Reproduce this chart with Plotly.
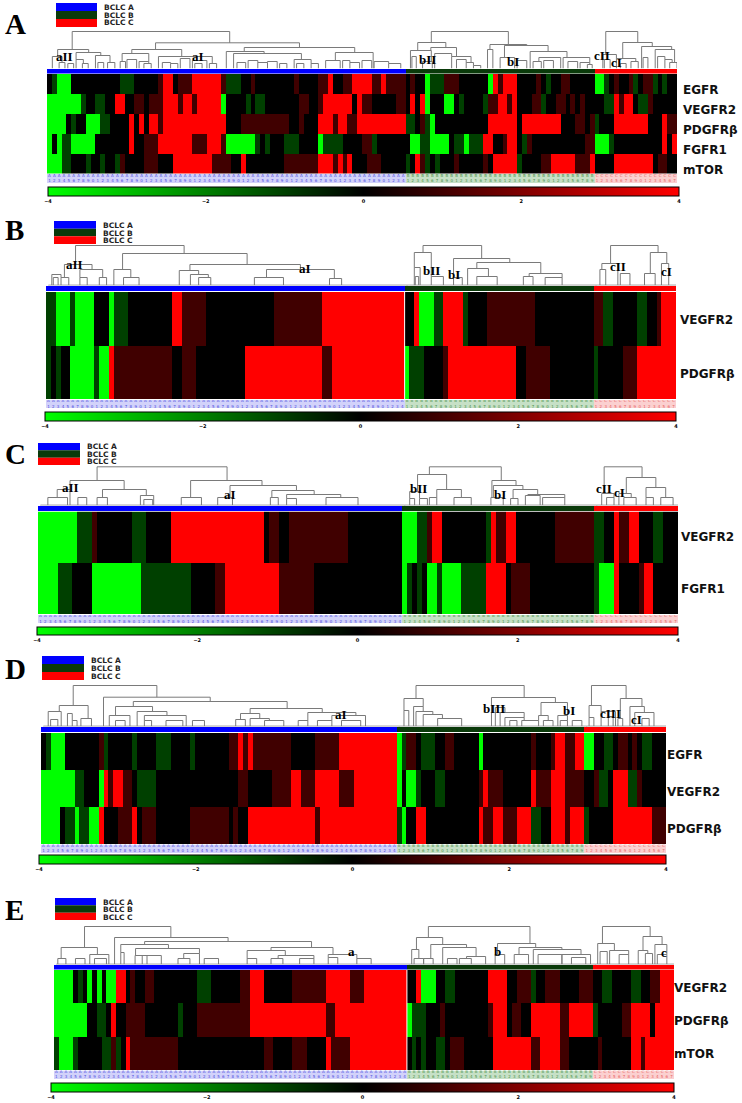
import plotly.graph_objects as go

W, H = 742, 1103
LEVELS = {'G': -4, 'g': -1, 'k': 0, 'd': 1, 'R': 4}
GROUP_NAMES = ['BCLC A', 'BCLC B', 'BCLC C']
GROUP_SIZES = [74, 39, 17]
GROUP_COLORS = ['#0000ff', '#0a3a0a', '#ff0000']
LABEL_BG = ['#d2d2fa', '#c6e0c6', '#fbd0d0']
LABEL_FG = ['#4a4ae0', '#4a904a', '#e86060']
TICKS = [-4, -2, 0, 2, 4]

# heat values per sample, run-length: level + number of samples (A part, B part, C part)
A_EGFR = ('k1 g1 G3 k10 g3 k5 d1 R2 k1 d3 R6 d1 g3 k2 d1 k8 d1 k4 d2 R1 k2 d2 R4 d2 R1 d4 '
          'k1 d1 k2 G1 g3 d3 k6 G1 R1 d1 R3 k4 d1 k1 g1 k2 d2 k5 '
          'G2 g1 k1 d1 k2 d1 g1 k1 d2 g1 k1 g1 k2')
A_VEGFR2 = ('G7 g1 k2 g2 k2 R2 k2 d2 k1 d3 R3 d1 R2 d1 R5 G1 k4 g1 k1 g2 k7 d2 k2 d1 R6 k1 R1 d2 k5 d2 '
            'k1 R1 k1 R1 G1 k3 G2 k1 g1 k4 g1 d2 R2 d1 R1 k3 d2 g1 k2 d2 k1 d1 k1 d1 k2 '
            'k2 g2 R1 d1 R2 k1 g2 d1 k5')
A_PDGFRB = ('G4 k1 g1 k2 G3 g2 k4 R1 k1 R1 k1 R2 d1 R13 k3 d10 k2 d1 k3 R3 d1 R2 d2 R10 '
            'g2 k1 d1 g1 G1 k11 R6 k1 R8 k3 d2 k1 d1 '
            'g1 k3 R7 k3 R1 d2')
A_FGFR1 = ('G1 k1 G1 g2 G5 k7 R1 k2 d3 R7 d3 R3 d1 G6 g1 k1 g1 k3 g3 k4 G1 g4 k4 d2 g1 k6 '
           'k1 G2 g2 G4 k1 g2 G1 g3 R2 k2 d1 R2 k1 g1 d1 k11 d2 '
           'G3 g1 k10 R1 k1 R1')
A_MTOR = ('G3 g2 k3 g1 k2 g1 k2 g1 d1 k4 d3 k3 R8 d4 k2 R1 k8 d7 R3 d1 R1 d1 R1 k3 d3 k5 '
          'g1 k1 R1 d1 g1 k1 g1 k3 d1 k5 d1 k1 R5 g1 k4 d2 R5 d3 R1 '
          'k4 R8 k1 d2 k2')

B_VEGFR2 = ('g2 G3 g1 G4 k3 G1 g3 k9 R2 d5 k14 d10 R17 '
            'k2 R1 G3 g2 R4 g1 k4 d10 k12 '
            'd2 g2 k5 g2 k2 d1 R3')
B_PDGFRB = ('g1 k1 g1 k2 G5 g1 G2 R1 d12 k2 d3 k10 R16 d2 R15 '
            'G1 g3 k4 d1 R14 k2 d5 k9 '
            'g1 k5 d3 R8')

C_VEGFR2 = ('G8 g3 d1 k7 g3 k5 R19 k1 d2 k2 d12 k11 '
            'G3 g2 d1 R2 k9 g1 R1 d2 R2 k8 d8 '
            'g2 k2 R1 d2 R2 k3 g2 k3')
C_FGFR1 = ('G4 g3 k4 G10 g10 k5 d2 R11 d7 k18 '
           'G1 g1 k1 g1 k1 G2 g1 G4 g5 R4 k1 d4 k13 '
           'g1 G3 R1 k4 d1 R2 k5')

D_EGFR = ('k1 g1 G3 k7 d1 g1 k5 g1 k4 g3 k4 g1 k7 d2 R1 d1 R1 d8 k5 d5 R12 '
          'G1 g1 d2 k1 g3 k2 d2 k5 G1 k10 d1 k3 d1 R2 d2 R2 '
          'G2 k2 g2 k1 d2 k1 d1 k1 g2 k3')
D_VEGFR2 = ('G7 g2 k3 G1 R1 d1 R2 d2 k1 g4 k17 d2 k5 d4 R2 d3 R5 d3 R9 '
            'G1 k1 G2 g1 k3 g2 k7 d1 R1 d3 k6 R1 d3 R3 d4 '
            'k2 d1 g2 k1 R3 g2 d1 k5')
D_PDGFRB = ('G4 k1 g2 G1 g2 G2 R1 k3 d3 R1 k1 d3 k7 d8 k1 d1 k2 R14 d1 R16 '
            'g1 G1 k2 R2 k11 R1 d2 R2 d3 R3 g2 k2 R3 d1 R3 '
            'g1 k5 R8 d3')

E_VEGFR2 = ('G4 k1 g1 k1 G1 k1 G1 k1 G2 R2 k1 d1 k2 d2 k9 g3 k6 d2 R3 k6 d7 R5 d3 R9 '
            'k2 R1 G3 k2 g2 k7 R4 k2 d3 g1 k2 d3 k2 k2 d3 '
            'k2 g2 k4 g2 k2 d2 R3')
E_PDGFRB = ('G7 k2 g2 k1 R1 k2 d4 k7 g1 k3 d11 R16 d2 R15 '
            'G1 g3 k3 d1 k9 d1 R3 k1 d2 k2 R6 d2 R5 '
            'g1 k5 d2 R4 k1 R4')
E_MTOR = ('g1 G3 g1 k5 g2 d1 g1 k1 R1 d10 k18 d2 k4 d3 k4 R1 d4 R12 '
          'k1 g1 k1 g1 k2 g2 k1 d3 k6 R8 d2 R4 d2 k5 '
          'k1 d1 k6 R2 d1 R6')

# dendrogram merges: left sample, right sample, height
A_MERGES = [(4.7, 37.2, 37), (1.7, 8.1, 19), (0.6, 2.6, 12), (2, 3.2, 6), (3.8, 5, 5), (5.5, 10.6, 16),
            (5.5, 7, 9), (6.8, 8, 5), (9.5, 12.5, 13), (10, 11.2, 6), (12, 13.5, 6),
            (21.9, 51.6, 25.7), (17, 27.3, 19), (15, 20.5, 15), (14.6, 15.7, 7), (16, 18, 9), (18.5, 20.5, 7),
            (19.5, 21, 5), (22.5, 33.6, 12), (23.3, 25, 6), (25, 26.5, 5), (27, 29, 10), (29.5, 32.5, 8),
            (30, 31.5, 5), (33, 34.5, 5), (40.2, 63, 21), (36.5, 44.3, 17), (38, 52, 15), (38.7, 40.5, 6),
            (41, 43, 8), (43, 45, 6), (45, 47, 7), (47.5, 49, 5), (50.5, 54, 9), (51, 52.5, 5), (54, 55.5, 5),
            (59, 66.8, 16), (57, 60, 8), (60.5, 62, 8), (62, 64, 6), (64.5, 66.5, 8), (67, 70, 7), (70, 72.5, 5),
            (78.8, 94.7, 37), (76, 81.8, 26), (74.5, 78.8, 18), (74.8, 75.7, 12), (77, 79, 7), (78.7, 84, 21),
            (79.5, 83, 15), (83, 87, 12), (84, 86, 9), (86, 87.5, 6), (87.5, 89, 3),
            (90.9, 98.5, 24), (90.4, 91.5, 19), (93.9, 102.9, 23), (93, 96, 11), (96.5, 98.5, 8),
            (99.2, 106.8, 17), (101, 105.5, 11), (99.8, 101.5, 7), (102, 104, 8), (106, 111.5, 11),
            (107, 109, 7), (109.5, 111.5, 6), (111, 112, 4),
            (114.8, 121.4, 37), (114.2, 117, 14), (114.5, 115.7, 9), (118.3, 124.4, 26), (117, 121, 10),
            (117.8, 119, 5), (120, 121.5, 7), (122.2, 128.4, 22), (122.5, 123.5, 11), (125, 129, 19),
            (125.5, 127, 12), (127, 128.5, 9), (128, 129.5, 6)]
B_MERGES = [(5.6, 28, 40), (3.3, 9, 21), (0.7, 2.6, 11), (1, 2, 8), (2.6, 4.2, 8), (6.5, 11.2, 16), (6.5, 8, 8),
            (10.5, 12, 8), (15.3, 41, 32), (13.5, 17, 16), (15.5, 18.7, 8), (29.2, 52, 21), (27, 31, 15),
            (29.3, 33, 11), (31, 33.5, 8), (45, 59, 16), (42.5, 48.5, 8), (58, 60.5, 7), (0, 74, 0.3),
            (77.3, 89.4, 40), (75.5, 79, 33), (75.5, 76.7, 18), (75.7, 76.4, 9), (79, 81.5, 9), (83.6, 95.2, 27),
            (83.6, 85.4, 8), (88.4, 101.6, 23), (86.5, 90.8, 17), (88.4, 92.6, 9), (99.2, 106, 12), (98, 100, 9),
            (102.5, 106, 8), (74, 113, 0.3),
            (116, 125.8, 40), (114.2, 117.5, 22), (113.8, 115, 16), (118, 120, 12), (124.2, 127.6, 33),
            (123, 125.2, 12), (126.5, 128, 22), (113, 130, 0.3)]
C_MERGES = [(11.5, 37.9, 38.7), (6, 17, 25), (3.4, 6, 16), (1.5, 5.5, 8), (7.6, 9.4, 8), (12.6, 21.5, 16),
            (11.5, 13.6, 8), (20.3, 23, 10), (21, 22.8, 6), (30.5, 45, 25), (28.6, 32.7, 8), (38.5, 52, 20),
            (36, 39, 8), (46.7, 48.3, 8), (47, 55.6, 15), (50, 61, 11), (50, 52, 7), (58, 64.5, 8), (0, 74, 0.3),
            (79, 93.6, 38.7), (76.6, 82.5, 31), (75, 77, 14), (75, 76, 7), (77, 78.6, 7), (80.5, 85.5, 16),
            (79, 80.5, 8), (84, 87.5, 8), (91.7, 96.6, 25), (92, 98, 20), (96, 101, 16), (91.5, 94, 8),
            (95.5, 97, 7), (98.5, 101.5, 10), (99, 106.5, 11), (102, 106.5, 8), (74, 113, 0.3),
            (114.5, 122.2, 38.7), (114, 116.5, 12), (115, 116.5, 8), (119, 125, 28), (117.5, 120, 12),
            (118.5, 121, 8), (123, 127, 18), (123, 124.5, 8), (126, 128.5, 8), (113, 130, 0.3)]
D_MERGES = [(6.2, 23.6, 41), (3.3, 9.3, 21), (1, 3.7, 15), (1.5, 3, 7), (5, 6, 13), (6, 7, 6), (7.8, 10, 8),
            (12.5, 34.7, 29.3), (18.7, 50.7, 25), (15, 22.7, 20), (13.7, 18, 11), (15, 17, 6), (19.5, 25.7, 15),
            (21, 29.7, 11), (21, 22.5, 6), (25.5, 29, 6), (31, 33.5, 6), (43, 58, 18), (41, 45, 13), (40, 42, 7),
            (43, 47, 8), (46, 50, 6), (53, 55, 6), (55, 65, 14), (60, 67, 11), (57, 60, 6), (62, 66, 6), (0, 74, 0.3),
            (77.5, 100, 41), (75, 79, 28), (75, 76, 16), (77, 79, 20), (77.5, 81, 15), (79, 83, 12), (82, 87, 8),
            (93.2, 106.5, 29), (94, 96, 19), (95, 100, 14), (96, 100, 9), (97, 98.5, 6), (99.5, 103, 6),
            (103.5, 109, 24), (103, 105, 11), (104, 106, 6), (107, 109, 11), (107.5, 109, 6), (110, 112, 6),
            (74, 113, 0.3),
            (114, 121.2, 41), (113.5, 116, 21), (113.5, 114.5, 9), (116, 119, 15), (117.5, 118.5, 10),
            (119.5, 120.5, 8), (120, 124.5, 28), (122, 125, 20), (123, 127, 14), (124.5, 126, 8), (113, 130, 0.3)]
E_MERGES = [(5.9, 24, 38), (1, 8.6, 17), (0.3, 2, 6), (4, 6, 6), (7, 11, 10), (8, 10.5, 6), (12.2, 36, 27),
            (18.5, 53.5, 23), (13.5, 23.5, 20), (13.5, 14.2, 12), (16.6, 30, 16), (16.5, 19, 9), (18, 22, 9),
            (25.5, 28, 6), (31, 34, 6), (26.7, 30, 11), (45, 58, 17), (40, 48, 14), (40, 42, 6), (45, 47.5, 6),
            (46.5, 54, 9), (51, 54, 6), (57, 63, 10), (57, 59, 7), (63, 66, 6), (0, 74, 0.3),
            (78, 99.3, 38), (75.5, 81, 27), (74.5, 76, 15), (75, 77, 6), (77, 79, 6), (78.5, 86, 20), (81, 88, 17),
            (82, 84, 6), (84.5, 87, 6), (86, 90, 8), (92.5, 100.5, 21), (97, 106, 17), (92, 94, 10), (96, 99, 10),
            (100, 110, 15), (101, 106, 10), (106, 112, 10), (108, 111, 7), (74, 113, 0.3),
            (114.5, 124.5, 38), (113.5, 117, 21), (114, 115.5, 13), (116, 120, 14), (118, 120, 10), (123, 127, 28),
            (122, 124, 14), (123.5, 125, 11), (125.5, 128, 20), (126, 128, 10), (113, 130, 0.3)]

# cluster labels: text, sample, height
A_CLUSTERS = [('aII', 3.2, 12), ('aI', 30.7, 12), ('bII', 78, 9), ('bI', 95.6, 7), ('cII', 114, 13), ('cI', 117, 6)]
B_CLUSTERS = [('aII', 5.3, 21), ('aI', 53, 17), ('bII', 79, 15), ('bI', 83.7, 11), ('cII', 117.5, 19), ('cI', 127.5, 14)]
C_CLUSTERS = [('aII', 6.2, 18), ('aI', 38.5, 11), ('bII', 76.8, 17), ('bI', 93.4, 11), ('cII', 114.4, 17), ('cI', 117.6, 13)]
D_CLUSTERS = [('aI', 62, 12), ('bIII', 93.7, 18), ('bI', 109.4, 16), ('cIII', 118, 13), ('cI', 123.3, 7)]
E_CLUSTERS = [('a', 61.8, 13), ('b', 92.5, 13), ('c', 127.5, 12)]

# pixel geometry of each panel
PANELS = [
    dict(letter='A', letter_y=24, genes=['EGFR', 'VEGFR2', 'PDGFRβ', 'FGFR1', 'mTOR'],
         rows=[A_EGFR, A_VEGFR2, A_PDGFRB, A_FGFR1, A_MTOR], merges=A_MERGES, clusters=A_CLUSTERS,
         left=47, right=677, dend=(30, 68.5), strip=(69, 73.5), heat=(74, 173.5), lab=(174, 183),
         bar=(48, 679, 187.5, 196.5), legend=(56, 97, 3, 27), legend_text=(103, [8, 15, 23]),
         standoff=5, gene_shift=0.3, divider=False),
    dict(letter='B', letter_y=230, genes=['VEGFR2', 'PDGFRβ'],
         rows=[B_VEGFR2, B_PDGFRB], merges=B_MERGES, clusters=B_CLUSTERS,
         left=46, right=676, dend=(245, 285.5), strip=(286, 291), heat=(292, 399), lab=(400, 408),
         bar=(45, 676, 412, 421), legend=(54, 96, 221, 244), legend_text=(102, [225, 233, 240]),
         standoff=3, gene_shift=0.02, divider=True),
    dict(letter='C', letter_y=454, genes=['VEGFR2', 'FGFR1'],
         rows=[C_VEGFR2, C_FGFR1], merges=C_MERGES, clusters=C_CLUSTERS,
         left=38, right=678, dend=(466, 505.5), strip=(506, 511), heat=(511.5, 614), lab=(615, 623),
         bar=(37, 678, 627, 635), legend=(38, 80, 443, 465), legend_text=(86, [446, 454, 461]),
         standoff=2, gene_shift=0, divider=False),
    dict(letter='D', letter_y=669, genes=['EGFR', 'VEGFR2', 'PDGFRβ'],
         rows=[D_EGFR, D_VEGFR2, D_PDGFRB], merges=D_MERGES, clusters=D_CLUSTERS,
         left=41, right=666, dend=(684, 726.5), strip=(727, 732), heat=(733, 844), lab=(844.5, 853),
         bar=(39, 666, 855, 864), legend=(42, 84, 656, 680), legend_text=(90, [660, 668, 676]),
         standoff=0, gene_shift=0.1, divider=False),
    dict(letter='E', letter_y=910, genes=['VEGFR2', 'PDGFRβ', 'mTOR'],
         rows=[E_VEGFR2, E_PDGFRB, E_MTOR], merges=E_MERGES, clusters=E_CLUSTERS,
         left=54, right=674, dend=(926, 964.5), strip=(965, 969.5), heat=(970, 1070), lab=(1070.5, 1079),
         bar=(51, 674, 1083, 1091.5), legend=(55, 96, 898, 920), legend_text=(102, [902, 909, 917]),
         standoff=-1, gene_shift=0.02, divider=True),
]


def expand(row):
    values = []
    for run in row.split():
        values += [LEVELS[run[0]]] * int(run[1:])
    assert len(values) == 130, len(values)
    return values


def px_x(v):
    return v / W


def px_y(v):
    return 1 - v / H


def leg_bottom(merges, x, h):
    hits = [m[2] for m in merges if m[2] < h and m[0] <= x <= m[1]]
    return max(hits) if hits else 0


def dendro_lines(merges):
    xs, ys = [], []
    for left, right, h in merges:
        xs += [left, left, right, right, None]
        ys += [leg_bottom(merges, left, h), h, h, leg_bottom(merges, right, h), None]
    return xs, ys


samples = list(range(130))
group_codes = []
sample_text = []
for g, n in enumerate(GROUP_SIZES):
    group_codes += [g] * n
    sample_text += ['%s<br>%d' % ('ABC'[g], (i + 1) % 10) for i in range(n)]
sample_colors = [LABEL_FG[g] for g in group_codes]

fig = go.Figure()
axes = {}
annotations = []
shapes = []
ax = 0


def add_axes(left, right, y0, y1, xrange, yrange):
    global ax
    ax += 1
    s = '' if ax == 1 else str(ax)
    axes['xaxis' + s] = dict(domain=[px_x(left), px_x(right)], range=xrange, visible=False, anchor='y' + s)
    axes['yaxis' + s] = dict(domain=[px_y(y1), px_y(y0)], range=yrange, anchor='x' + s, visible=False)
    return 'x' + s, 'y' + s


for p in PANELS:
    xr = [-0.5, 129.5]
    left, right = p['left'], p['right']

    # dendrogram
    xa, ya = add_axes(left, right, p['dend'][0], p['dend'][1], xr, [0, p['dend'][1] - p['dend'][0]])
    dx, dy = dendro_lines(p['merges'])
    fig.add_trace(go.Scatter(x=dx, y=dy, mode='lines', xaxis=xa, yaxis=ya, showlegend=False,
                             line=dict(color='#7a7a7a', width=1)))
    for text, col, h in p['clusters']:
        annotations.append(dict(x=col, y=h, xref=xa, yref=ya, text='<b>%s</b>' % text, showarrow=False,
                                font=dict(family='Liberation Serif', size=13, color='black')))

    # group strip
    xa, ya = add_axes(left, right, p['strip'][0], p['strip'][1], xr, [-0.5, 0.5])
    fig.add_trace(go.Heatmap(z=[group_codes], x=samples, xaxis=xa, yaxis=ya, showscale=False, zmin=0, zmax=2,
                             colorscale=[[0, GROUP_COLORS[0]], [0.33, GROUP_COLORS[0]], [0.33, GROUP_COLORS[1]],
                                         [0.67, GROUP_COLORS[1]], [0.67, GROUP_COLORS[2]], [1, GROUP_COLORS[2]]]))

    # expression cells
    z = [expand(r) for r in p['rows']]
    n = len(z)
    bx0, bx1, by0, by1 = p['bar']
    xa, ya = add_axes(left, right, p['heat'][0], p['heat'][1], xr, [n - 0.5, -0.5])
    fig.add_trace(go.Heatmap(z=z, x=samples, y=list(range(n)), xaxis=xa, yaxis=ya, zmin=-4, zmax=4,
                             colorscale=[[0, '#00ff00'], [0.5, '#000000'], [1, '#ff0000']],
                             colorbar=dict(orientation='h', x=px_x(bx0), xanchor='left', xpad=0, ypad=0,
                                           y=px_y(by0), yanchor='top', len=bx1 - bx0, lenmode='pixels',
                                           thickness=by1 - by0, thicknessmode='pixels',
                                           outlinecolor='black', outlinewidth=1,
                                           tickvals=TICKS, ticks='', ticklen=0,
                                           tickfont=dict(family='DejaVu Sans', size=5, color='black', weight='bold'))))
    axes['yaxis' + ya[1:]].update(visible=True, side='right', tickvals=[i + p['gene_shift'] for i in range(n)],
                                  ticktext=p['genes'], showgrid=False, zeroline=False, showline=False,
                                  ticks='', ticklen=0, ticklabelstandoff=p['standoff'],
                                  tickfont=dict(family='DejaVu Sans', size=12, color='#111111', weight='bold'))
    if p['divider']:
        shapes.append(dict(type='line', xref=xa, yref=ya, x0=73.5, x1=73.5, y0=-0.5, y1=n - 0.5,
                           line=dict(color='white', width=1), layer='above'))

    # sample label strip
    xa, ya = add_axes(left, right, p['lab'][0], p['lab'][1], xr, [-0.5, 0.5])
    fig.add_trace(go.Heatmap(z=[group_codes], x=samples, xaxis=xa, yaxis=ya, showscale=False, zmin=0, zmax=2,
                             colorscale=[[0, LABEL_BG[0]], [0.33, LABEL_BG[0]], [0.33, LABEL_BG[1]],
                                         [0.67, LABEL_BG[1]], [0.67, LABEL_BG[2]], [1, LABEL_BG[2]]]))
    fig.add_trace(go.Scatter(x=samples, y=[0] * 130, text=sample_text, mode='text', xaxis=xa, yaxis=ya,
                             showlegend=False, textposition='middle center',
                             textfont=dict(family='DejaVu Sans', size=4, color=sample_colors)))

    # legend swatches and panel letter
    lx0, lx1, ly0, ly1 = p['legend']
    step = (ly1 - ly0) / 3
    tx, tys = p['legend_text']
    for i, name in enumerate(GROUP_NAMES):
        shapes.append(dict(type='rect', xref='paper', yref='paper', x0=px_x(lx0), x1=px_x(lx1),
                           y0=px_y(ly0 + step * i), y1=px_y(ly0 + step * (i + 1)),
                           fillcolor=GROUP_COLORS[i], line=dict(width=0)))
        annotations.append(dict(x=px_x(tx), y=px_y(tys[i]), xref='paper', yref='paper', text='<b>%s</b>' % name,
                                xanchor='left', yanchor='middle', showarrow=False, xshift=-1,
                                font=dict(family='DejaVu Sans', size=7.5, color='#222222')))
    annotations.append(dict(x=px_x(3), y=px_y(p['letter_y']), xref='paper', yref='paper',
                            text='<b>%s</b>' % p['letter'], xanchor='left', yanchor='middle', showarrow=False,
                            font=dict(family='Liberation Serif', size=29, color='black')))

fig.update_layout(width=W, height=H, margin=dict(l=0, r=0, t=0, b=0, autoexpand=False), paper_bgcolor='white',
                  plot_bgcolor='white', showlegend=False, annotations=annotations, shapes=shapes, **axes)

fig.write_html("out.html", config={'displayModeBar': False},
               post_script="document.body.style.margin='0';document.body.style.overflow='hidden';")
